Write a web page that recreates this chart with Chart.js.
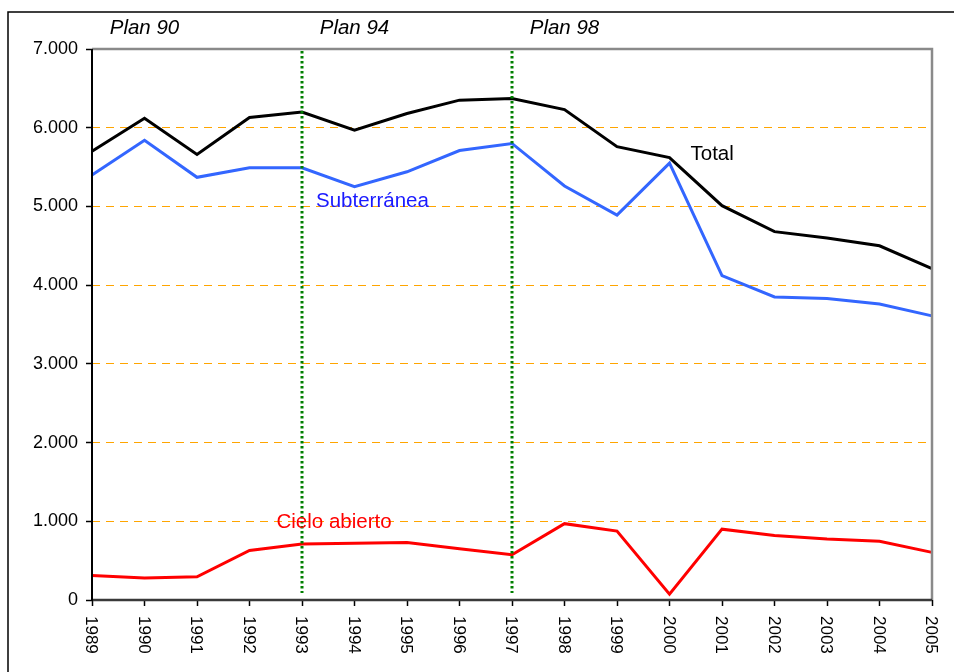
<!DOCTYPE html>
<html>
<head>
<meta charset="utf-8">
<script src="https://cdn.jsdelivr.net/npm/chart.js@4.4.1/dist/chart.umd.min.js"></script>
<style>
  html, body { margin: 0; padding: 0; background: #fff; }
</style>
</head>
<body>
<canvas id="grafico" width="954" height="672"></canvas>
<script>
const anios = ['1989', '1990', '1991', '1992', '1993', '1994', '1995', '1996', '1997',
  '1998', '1999', '2000', '2001', '2002', '2003', '2004', '2005'];
const total = [5700, 6120, 5660, 6130, 6200, 5970, 6180, 6350, 6370,
  6230, 5760, 5620, 5010, 4680, 4600, 4500, 4210];
const subterranea = [5400, 5840, 5370, 5490, 5490, 5250, 5440, 5710, 5800,
  5260, 4890, 5550, 4120, 3850, 3830, 3760, 3610];
const cieloAbierto = [310, 280, 295, 630, 710, 720, 730, 650, 575,
  970, 875, 75, 900, 820, 775, 745, 605];
const ejeY = { min: 0, max: 7000, paso: 1000 };
const planes = ['Plan 90', 'Plan 94', 'Plan 98'];
const aniosPlan = ['1990', '1994', '1998'];
const lineasPlan = ['1993', '1997'];

const fuente = '"Liberation Sans", Arial, sans-serif';

// separador de miles con punto
const miles = v => String(v).replace(/\B(?=(\d{3})+(?!\d))/g, '.');

const decoraciones = {
  id: 'decoraciones',
  afterDatasetsDraw(chart) {
    const { ctx, chartArea: a, scales: { x, y } } = chart;
    // lineas verticales de los planes
    ctx.save();
    ctx.strokeStyle = '#008000';
    ctx.lineWidth = 3;
    ctx.setLineDash([2.5, 2.5]);
    lineasPlan.forEach(an => {
      const px = Math.round(x.getPixelForValue(anios.indexOf(an)));
      ctx.beginPath();
      ctx.moveTo(px, a.top + 2);
      ctx.lineTo(px, a.bottom - 7);
      ctx.stroke();
    });
    ctx.restore();
  },
  afterDraw(chart) {
    const { ctx, chartArea: a, scales: { x, y } } = chart;
    ctx.save();
    // marco exterior
    ctx.strokeStyle = '#000';
    ctx.lineWidth = 1.5;
    ctx.strokeRect(8, 12, 1000, 700);

    // marco del area de trazado
    ctx.lineWidth = 2.5;
    ctx.strokeStyle = '#8a8a8a';
    ctx.beginPath();
    ctx.moveTo(a.left, a.top);
    ctx.lineTo(a.right, a.top);
    ctx.lineTo(a.right, a.bottom);
    ctx.stroke();
    ctx.strokeStyle = '#3a3a3a';
    ctx.beginPath();
    ctx.moveTo(a.left, a.bottom);
    ctx.lineTo(a.right, a.bottom);
    ctx.stroke();
    ctx.strokeStyle = '#000';
    ctx.lineWidth = 2;
    ctx.beginPath();
    ctx.moveTo(a.left, a.top);
    ctx.lineTo(a.left, a.bottom + 1);
    ctx.stroke();

    // etiquetas del eje x, giradas
    ctx.fillStyle = '#000';
    ctx.font = '17px ' + fuente;
    ctx.textAlign = 'left';
    ctx.textBaseline = 'middle';
    anios.forEach((an, i) => {
      const px = x.getPixelForValue(i);
      ctx.save();
      ctx.translate(px - 1, a.bottom + 16);
      ctx.rotate(Math.PI / 2);
      ctx.fillText(an, 0, 0);
      ctx.restore();
    });

    // titulos de los planes
    ctx.font = 'italic 20.5px ' + fuente;
    ctx.textAlign = 'center';
    planes.forEach((p, i) => {
      ctx.fillText(p, x.getPixelForValue(anios.indexOf(aniosPlan[i])), a.top - 21);
    });

    // nombres de las series
    ctx.font = '20.5px ' + fuente;
    ctx.textAlign = 'left';
    ctx.fillStyle = '#000';
    ctx.fillText('Total', x.getPixelForValue(11) + 21, y.getPixelForValue(5660));
    ctx.fillStyle = '#1a1aff';
    ctx.fillText('Subterránea', x.getPixelForValue(4) + 14, y.getPixelForValue(5060));
    ctx.fillStyle = '#ff0000';
    ctx.fillText('Cielo abierto', x.getPixelForValue(3) + 27, y.getPixelForValue(990));
    ctx.restore();
  }
};

const ctx = document.getElementById('grafico').getContext('2d');
const grafico = new Chart(ctx, {
  type: 'line',
  data: {
    labels: anios,
    datasets: [
      { label: 'Cielo abierto', data: cieloAbierto, borderColor: '#ff0000' },
      { label: 'Subterránea', data: subterranea, borderColor: '#3366ff' },
      { label: 'Total', data: total, borderColor: '#000000' }
    ]
  },
  options: {
    responsive: false,
    animation: false,
    devicePixelRatio: 1,
    layout: { padding: { left: 0, top: 49, right: 22, bottom: 0 } },
    elements: {
      line: { borderWidth: 3, tension: 0, fill: false },
      point: { radius: 0 }
    },
    plugins: {
      legend: { display: false },
      tooltip: { enabled: false }
    },
    scales: {
      x: {
        offset: false,
        ticks: { display: false },
        grid: { display: true, drawOnChartArea: false, drawTicks: true, tickLength: 6, tickColor: '#000', tickWidth: 1.5 },
        border: { display: false },
        afterFit: s => { s.height = 72; }
      },
      y: {
        min: ejeY.min,
        max: ejeY.max,
        ticks: {
          stepSize: ejeY.paso,
          color: '#000',
          padding: 8,
          font: { family: fuente, size: 18 },
          callback: v => miles(v)
        },
        grid: { color: '#ffa500', lineWidth: 1, tickColor: '#000', tickLength: 6, tickWidth: 1.5 },
        border: { display: false, dash: [8, 6] },
        afterFit: s => { s.width = 92; }
      }
    }
  },
  plugins: [decoraciones]
});
</script>
</body>
</html>
